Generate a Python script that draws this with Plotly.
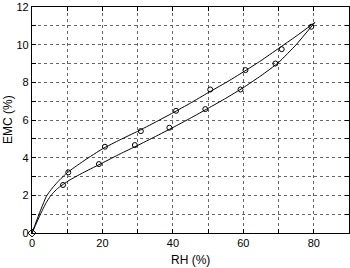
import plotly.graph_objects as go

# measured points
des_rh = [10.3, 20.7, 30.9, 40.9, 50.6, 60.6, 70.9, 79.3]
des_emc = [3.22, 4.58, 5.41, 6.49, 7.62, 8.65, 9.76, 10.95]
ads_rh = [8.8, 19.0, 29.2, 39.0, 49.2, 59.2, 69.1]
ads_emc = [2.55, 3.66, 4.67, 5.59, 6.58, 7.62, 9.0]
origin_rh = [0]
origin_emc = [0]

# fitted curves
des_fit_rh = [0, 2, 4, 5, 6, 7, 8, 9, 10, 12, 15, 20, 25, 30, 35, 40, 45, 50, 55, 60, 65, 70, 75, 80.3]
des_fit_emc = [0, 1.0, 1.92, 2.2, 2.44, 2.65, 2.85, 3.03, 3.2, 3.48, 3.87, 4.47, 4.95, 5.4, 5.88,
               6.38, 6.9, 7.45, 7.98, 8.55, 9.15, 9.8, 10.45, 11.18]
ads_fit_rh = [0, 2.4, 4, 5.2, 6, 7, 8, 9, 10.5, 12, 15, 20, 25, 30, 35, 40, 45, 50, 55, 60, 65, 70, 75, 80.3]
ads_fit_emc = [0, 1.0, 1.6, 1.95, 2.13, 2.32, 2.47, 2.6, 2.79, 2.95, 3.25, 3.72, 4.2, 4.65, 5.12,
               5.6, 6.1, 6.62, 7.15, 7.72, 8.35, 9.05, 10.0, 11.18]

x_ticks = [0, 10, 20, 30, 40, 50, 60, 70, 80, 90]
x_labels = ["0", "", "20", "", "40", "", "60", "", "80", ""]
y_ticks = list(range(0, 13))
y_labels = [str(v) if v % 2 == 0 else "" for v in y_ticks]

fig = go.Figure()
line = dict(color="black", width=1)
fig.add_trace(go.Scatter(x=des_fit_rh, y=des_fit_emc, mode="lines", line=dict(shape="spline", smoothing=0.4, **line)))
fig.add_trace(go.Scatter(x=ads_fit_rh, y=ads_fit_emc, mode="lines", line=dict(shape="spline", smoothing=0.4, **line)))
mk = dict(symbol="circle-open", size=5, color="black", line=dict(width=1))
fig.add_trace(go.Scatter(x=des_rh, y=des_emc, mode="markers", marker=mk))
fig.add_trace(go.Scatter(x=ads_rh, y=ads_emc, mode="markers", marker=mk))
fig.add_trace(go.Scatter(x=origin_rh, y=origin_emc, mode="markers", cliponaxis=False,
                         marker=dict(symbol="diamond-open", size=6, color="black", line=dict(width=1))))

axis_common = dict(showline=True, linecolor="black", linewidth=1.2, mirror="ticks",
                   ticks="inside", ticklen=4, tickcolor="black", tickwidth=1,
                   showgrid=True, gridcolor="#666666", griddash="dot", gridwidth=1,
                   zeroline=False, automargin=False, tickfont=dict(size=11, color="black"))
fig.update_layout(
    width=350, height=268,
    margin=dict(l=32, r=1, t=7, b=35, autoexpand=False),
    paper_bgcolor="white", plot_bgcolor="white",
    showlegend=False,
    font=dict(family="Liberation Sans, Arial, sans-serif", color="black"),
    xaxis=dict(range=[0, 90], tickmode="array", tickvals=x_ticks, ticktext=x_labels, **axis_common),
    yaxis=dict(range=[0, 12], tickmode="array", tickvals=y_ticks, ticktext=y_labels, **axis_common),
    annotations=[
        dict(text="RH (%)", xref="paper", yref="paper", x=0.5, y=0, yshift=-18,
             xanchor="center", yanchor="top", showarrow=False, font=dict(size=12)),
        dict(text="EMC (%)", xref="paper", yref="paper", x=0, xshift=-15, y=0.5,
             xanchor="right", yanchor="middle", textangle=-90, showarrow=False, font=dict(size=12)),
    ],
)
fig.write_html("out.html", config={"displayModeBar": False},
               post_script="document.body.style.margin='0';")
